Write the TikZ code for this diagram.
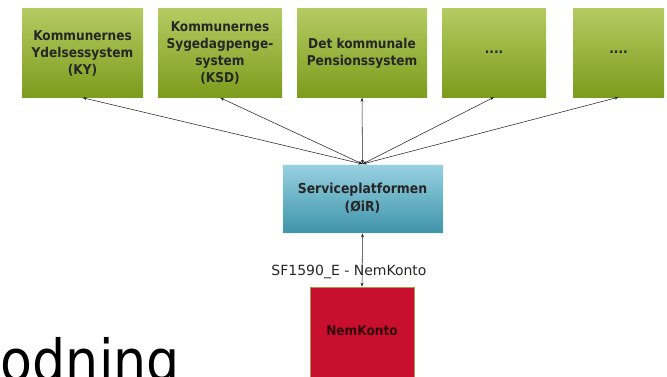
\documentclass[tikz,border=0pt]{standalone}
\usepackage{fontspec}
\setmainfont{DejaVu Sans Condensed}
\newfontfamily\labelfont{DejaVu Sans}
\usetikzlibrary{arrows.meta}
\definecolor{gtop}{HTML}{B4CB62}
\definecolor{gbot}{HTML}{7C9C1C}
\definecolor{btop}{HTML}{98D2E2}
\definecolor{bbot}{HTML}{3F93AA}
\definecolor{nkred}{HTML}{C8102E}
\definecolor{nkborder}{HTML}{A89A4A}
\tikzset{
  sysbox/.style={rectangle, top color=gtop, bottom color=gbot, draw=none,
    align=center, font=\bfseries\fontsize{13.5}{17}\selectfont, text=black!85,
    inner sep=0pt, minimum height=89pt},
  link/.style={draw=black!85, line width=0.55pt,
    {Stealth[length=4pt,width=3pt]}-{Stealth[length=4pt,width=3pt]}}
}
\begin{document}
\begin{tikzpicture}[x=1pt,y=-1pt]
\path[use as bounding box, clip] (0,0) rectangle (667,376);
\fill[white] (0,0) rectangle (667,376);
\node[sysbox, minimum width=121pt] (b1) at (82.5,53) {Kommunernes\\Ydelsessystem\\(KY)};
\node[sysbox, minimum width=124pt] (b2) at (220,53) {Kommunernes\\Sygedagpenge-\\system\\(KSD)};
\node[sysbox, minimum width=130pt] (b3) at (362,53) {Det kommunale\\Pensionssystem};
\node[sysbox, minimum width=104pt] (b4) at (494,52.5) {....};
\node[sysbox, minimum width=91pt] (b5) at (618.5,52.5) {....};
\node[rectangle, top color=btop, bottom color=bbot, draw=white!85!btop, line width=0.8pt,
  minimum width=161pt, minimum height=69pt,
  align=center, font=\bfseries\fontsize{13.8}{18}\selectfont, text=black!85, inner sep=0pt]
  (sp) at (362.5,198.5) {Serviceplatformen\\(ØiR)};
\node[rectangle, fill=nkred, draw=nkborder, line width=0.6pt, minimum width=104pt, minimum height=92pt,
  inner sep=0pt] (nk) at (362,333) {};
\node[font=\bfseries\fontsize{13.5}{15}\selectfont, text=black!75!nkred] (nkt) at (362,331) {NemKonto};
\coordinate (hub) at (362.5,164);
\foreach \b in {b1,b2,b3,b4,b5}{
  \draw[link] (hub) -- (\b.south);
}
\draw[link] (sp.south) -- (nk.north);
\node[font=\labelfont\fontsize{14}{16}\selectfont, text=black!85] (lbl) at (349,272) {SF1590\_E - NemKonto};
\node[anchor=base east, font=\fontsize{58}{62}\selectfont, inner sep=0pt] (big) at (180,381) {odning};
\end{tikzpicture}
\end{document}
